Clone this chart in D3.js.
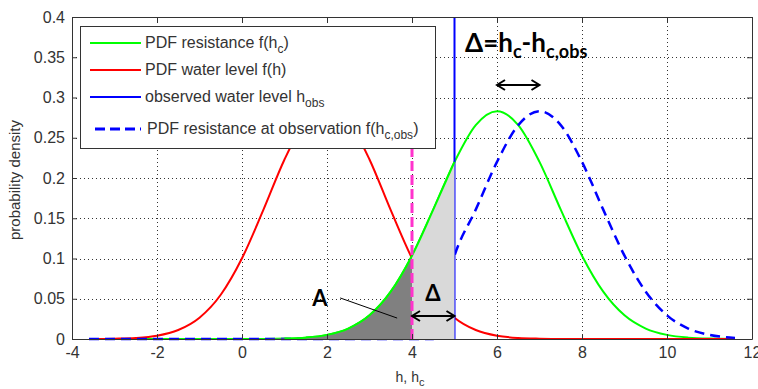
<!DOCTYPE html>
<html>
<head>
<meta charset="utf-8">
<script src="https://cdn.jsdelivr.net/npm/d3@7"></script>
<style>
  body { margin: 0; background: #fff; }
  text { font-family: "Liberation Sans", Arial, sans-serif; }
</style>
</head>
<body>
<div id="chart"></div>
<script>
// sample points along h
var hValues = [-3.6, -3, -2.5, -2, -1.5, -1, -0.5, 0, 0.5, 1, 1.5, 2, 2.5, 3, 3.5, 4, 4.5, 5,
               5.5, 6, 6.5, 7, 7.5, 8, 8.5, 9, 9.5, 10, 10.5, 11, 11.6];
// PDF water level f(h)
var waterLevelPdf = [0, 0.0004, 0.0013, 0.0041, 0.0112, 0.0265, 0.055, 0.1003, 0.160, 0.223, 0.272, 0.291,
                     0.272, 0.223, 0.160, 0.1003, 0.055, 0.0265, 0.0112, 0.0041, 0.0013, 0.0004, 0.0001,
                     0, 0, 0, 0, 0, 0, 0, 0];
// PDF resistance f(hc)
var resistancePdf = [0, 0, 0, 0, 0, 0, 0, 0, 0.0001, 0.0005, 0.0017, 0.0051, 0.013, 0.0294, 0.0588, 0.1035,
                     0.1607, 0.220, 0.2657, 0.283, 0.2657, 0.220, 0.1607, 0.1035, 0.0588, 0.0294, 0.013,
                     0.0051, 0.0017, 0.0005, 0.0001];
// PDF resistance at observation f(hc,obs)
var observedPdf = [0, 0, 0, 0, 0, 0, 0, 0, 0, 0, 0, 0, 0, 0, 0, 0, 0, 0.1035,
                   0.1607, 0.220, 0.2657, 0.283, 0.2657, 0.220, 0.1607, 0.1035, 0.0588, 0.0294, 0.013,
                   0.0051, 0.0014];

var hObs = 5, hCut = 4;
var xTicks = [-4, -2, 0, 2, 4, 6, 8, 10, 12];
var yTicks = [0, 0.05, 0.1, 0.15, 0.2, 0.25, 0.3, 0.35, 0.4];
var yTickLabels = ["0", "0.05", "0.1", "0.15", "0.2", "0.25", "0.3", "0.35", "0.4"];

var W = 758, H = 389;
var x = d3.scaleLinear().domain([-4, 12]).range([72, 752]);
var y = d3.scaleLinear().domain([0, 0.4]).range([339, 17]);

var svg = d3.select("#chart").append("svg")
    .attr("width", W).attr("height", H);

var rows = hValues.map(function(h, i) {
  return {h: h, red: waterLevelPdf[i], green: resistancePdf[i], obs: observedPdf[i]};
});

// grid
var grid = svg.append("g").attr("stroke", "#333").attr("stroke-width", 1)
    .attr("stroke-dasharray", "1,3");
grid.selectAll(".vg").data(xTicks.slice(1, -1)).enter().append("line")
    .attr("x1", function(d) { return Math.round(x(d)) + 0.5; })
    .attr("x2", function(d) { return Math.round(x(d)) + 0.5; })
    .attr("y1", y(0)).attr("y2", y(0.4));
grid.selectAll(".hg").data(yTicks.slice(1, -1)).enter().append("line")
    .attr("y1", function(d) { return Math.round(y(d)) + 0.5; })
    .attr("y2", function(d) { return Math.round(y(d)) + 0.5; })
    .attr("x1", x(-4)).attr("x2", x(12));

function lineOf(key) {
  return d3.line()
    .x(function(d) { return x(d.h); })
    .y(function(d) { return y(d[key]); })
    .curve(d3.curveMonotoneX);
}

svg.append("path").datum(rows).attr("d", lineOf("green"))
    .attr("fill", "none").attr("stroke", "#00ff00").attr("stroke-width", 2);
svg.append("path").datum(rows).attr("d", lineOf("red"))
    .attr("fill", "none").attr("stroke", "#ff0000").attr("stroke-width", 2);
svg.append("path").datum(rows).attr("d", lineOf("obs"))
    .attr("fill", "none").attr("stroke", "#0000ff").attr("stroke-width", 2.5)
    .attr("stroke-dasharray", "10,6");

// observed water level
svg.append("line")
    .attr("x1", x(hObs)).attr("x2", x(hObs))
    .attr("y1", y(0)).attr("y2", y(0.4))
    .attr("stroke", "#0000ff").attr("stroke-width", 2);

// shaded areas under resistance PDF
var area = d3.area()
    .x(function(d) { return x(d.h); })
    .y0(y(0))
    .y1(function(d) { return y(d.green); })
    .curve(d3.curveMonotoneX);
svg.append("path")
    .datum(rows.filter(function(d) { return d.h <= hCut; }))
    .attr("d", area).attr("fill", "#808080");
svg.append("path")
    .datum(rows.filter(function(d) { return d.h >= hCut && d.h <= hObs; }))
    .attr("d", area).attr("fill", "#d9d9d9");
// green edge over the shading
svg.append("path")
    .datum(rows.filter(function(d) { return d.h >= 1 && d.h <= hObs; }))
    .attr("d", lineOf("green"))
    .attr("fill", "none").attr("stroke", "#00ff00").attr("stroke-width", 2);

// cut line at h = 4 (runs up behind the legend)
svg.append("line")
    .attr("x1", x(hCut)).attr("x2", x(hCut))
    .attr("y1", y(0)).attr("y2", y(0.3))
    .attr("stroke", "#ff33cc").attr("stroke-width", 3)
    .attr("stroke-dasharray", "10,4");

// axes (ticks inward on all sides)
svg.append("g").attr("transform", "translate(0," + y(0) + ")")
    .call(d3.axisBottom(x).tickValues(xTicks).tickSize(-5).tickSizeOuter(0).tickPadding(8)
          .tickFormat(function(d) { return d; }));
svg.append("g").attr("transform", "translate(0," + y(0.4) + ")")
    .call(d3.axisTop(x).tickValues(xTicks).tickSize(-5).tickSizeOuter(0).tickFormat(""));
svg.append("g").attr("transform", "translate(" + x(-4) + ",0)")
    .call(d3.axisLeft(y).tickValues(yTicks).tickSize(-5).tickSizeOuter(0).tickPadding(7)
          .tickFormat(function(d, i) { return yTickLabels[i]; }));
svg.append("g").attr("transform", "translate(" + x(12) + ",0)")
    .call(d3.axisRight(y).tickValues(yTicks).tickSize(-5).tickSizeOuter(0).tickFormat(""));
svg.selectAll(".domain, .tick line").attr("stroke", "#333");
svg.selectAll(".tick text")
    .attr("fill", "#333")
    .style("font-size", "16px")
    .style("font-family", "'Liberation Sans', Arial, sans-serif");

// axis labels
var xl = svg.append("text").attr("x", 410).attr("y", 382)
    .attr("text-anchor", "middle").attr("fill", "#333").style("font-size", "14px");
xl.append("tspan").text("h, h");
xl.append("tspan").attr("dy", 4).style("font-size", "11px").text("c");

svg.append("text")
    .attr("transform", "translate(20,180) rotate(-90)")
    .attr("text-anchor", "middle").attr("fill", "#333")
    .style("font-size", "15px")
    .text("probability density");

// annotations
function doubleArrow(h1, h2, v) {
  var x1 = x(h1), x2 = x(h2), yy = y(v);
  svg.append("path")
    .attr("d", "M" + x1 + "," + yy + "L" + x2 + "," + yy +
               "M" + (x1 + 8) + "," + (yy - 5) + "L" + x1 + "," + yy + "L" + (x1 + 8) + "," + (yy + 5) +
               "M" + (x2 - 8) + "," + (yy - 5) + "L" + x2 + "," + yy + "L" + (x2 - 8) + "," + (yy + 5))
    .attr("fill", "none").attr("stroke", "#000").attr("stroke-width", 2);
}
doubleArrow(6, 7, 0.3155);
doubleArrow(4, 5, 0.0286);

var dt = svg.append("text").attr("x", 465).attr("y", 52)
    .style("font-family", "Lato, sans-serif").style("font-weight", 700)
    .style("font-size", "26px").attr("fill", "#000");
dt.append("tspan").text("\u0394=h");
dt.append("tspan").attr("dy", 6).style("font-size", "18px").text("c");
dt.append("tspan").attr("dy", -6).text("-h");
dt.append("tspan").attr("dy", 6).style("font-size", "18px").text("c,obs");

svg.append("text").attr("x", 320).attr("y", 306).attr("text-anchor", "middle")
    .style("font-family", "Lato, sans-serif").style("font-weight", 700)
    .style("font-size", "22px").text("A");
svg.append("line")
    .attr("x1", x(2.31)).attr("y1", y(0.051))
    .attr("x2", x(3.65)).attr("y2", y(0.026))
    .attr("stroke", "#000").attr("stroke-width", 1);
svg.append("text").attr("x", 433).attr("y", 301).attr("text-anchor", "middle")
    .style("font-family", "Lato, sans-serif").style("font-weight", 700)
    .style("font-size", "22px").text("\u0394");

// legend
var legendItems = [
  {main: "PDF resistance f(h", sub: "c", tail: ")", color: "#00ff00", dash: null, w: 2},
  {main: "PDF water level f(h)", sub: "", tail: "", color: "#ff0000", dash: null, w: 2},
  {main: "observed water level h", sub: "obs", tail: "", color: "#0000ff", dash: null, w: 2},
  {main: "PDF resistance at observation f(h", sub: "c,obs", tail: ")", color: "#0000ff", dash: "10,5", w: 3}
];
var legendY = [43, 70, 97, 129];
var lg = svg.append("g");
lg.append("rect").attr("x", 80.5).attr("y", 26.5).attr("width", 355).attr("height", 122)
    .attr("fill", "#fff").attr("stroke", "#333").attr("stroke-width", 1);
legendItems.forEach(function(d, i) {
  var yy = legendY[i];
  lg.append("line").attr("x1", d.dash ? 95 : 90).attr("x2", 141).attr("y1", yy).attr("y2", yy)
    .attr("stroke", d.color).attr("stroke-width", d.w)
    .attr("stroke-dasharray", d.dash);
  var t = lg.append("text").attr("x", d.dash ? 147 : 145).attr("y", yy + 5)
    .attr("fill", "#333").style("font-size", "16px");
  t.append("tspan").text(d.main);
  if (d.sub) t.append("tspan").attr("dy", 5).style("font-size", "12px").text(d.sub);
  if (d.tail) t.append("tspan").attr("dy", -5).text(d.tail);
});
</script>
</body>
</html>
